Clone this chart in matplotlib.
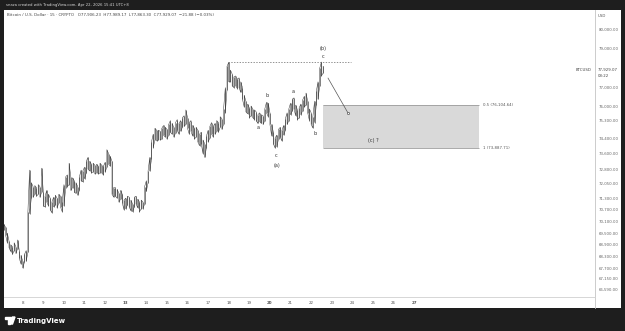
import numpy as np
import matplotlib.pyplot as plt
from matplotlib import transforms
from matplotlib.lines import Line2D
from matplotlib.patches import Rectangle, Polygon

# BTCUSD, 2-hour bars from Apr 7 02:00 to Apr 22 14:00 (UTC+8), thousand USD
lows = [
    69.65, 69.4, 69.0, 68.75, 68.55, 68.4, 68.6, 68.45, 68.7, 68.2, 67.9, 67.7,
    68.0, 68.05, 68.5, 70.5, 71.3, 71.35, 71.5, 71.4, 71.5, 71.35, 71.6, 70.9,
    70.85, 71.1, 70.9, 70.7, 70.55, 70.85, 70.95, 70.8, 71.05, 70.85, 70.6, 70.9,
    71.8, 71.9, 72.0, 71.7, 71.85, 71.6, 71.55, 71.45, 71.7, 72.2, 72.15, 72.3,
    72.6, 72.8, 72.7, 72.6, 72.65, 72.55, 72.6, 72.55, 72.6, 72.6, 72.5, 72.65,
    72.9, 73.05, 72.95, 71.5, 71.35, 71.4, 71.3, 71.1, 71.25, 71.05, 70.7, 70.75,
    70.95, 70.85, 70.65, 70.6, 70.85, 71.0, 70.8, 70.6, 70.75, 70.75, 71.0, 71.65,
    72.1, 72.7, 73.3, 73.9, 74.3, 74.25, 74.3, 74.3, 74.35, 74.55, 74.45, 74.35,
    74.55, 74.7, 74.6, 74.45, 74.65, 74.8, 74.6, 74.75, 74.95, 75.0, 75.1, 74.9,
    74.6, 74.75, 74.5, 74.35, 74.45, 74.2, 74.0, 74.1, 73.6, 73.4, 73.9, 74.2,
    74.4, 74.6, 74.45, 74.6, 74.75, 74.7, 74.95, 74.85, 75.1, 75.7, 76.9, 77.3,
    77.3, 77.1, 77.0, 77.1, 76.95, 77.0, 76.75, 76.4, 76.0, 75.75, 75.65, 75.45,
    75.55, 75.45, 75.35, 75.3, 75.15, 75.25, 75.15, 75.1, 75.3, 75.7, 75.5, 75.1,
    74.5, 74.1, 73.89, 73.95, 74.35, 74.45, 74.25, 74.55, 74.8, 75.1, 75.3, 75.6,
    75.8, 75.9, 75.55, 75.35, 75.45, 75.6, 75.8, 76.0, 76.1, 75.7, 75.3, 75.1,
    74.92, 75.2, 76.1, 76.4, 77.1, 77.6, 77.75,
]
highs = [
    69.95, 69.8, 69.5, 69.1, 68.9, 68.8, 69.0, 68.8, 69.15, 68.6, 68.35, 68.05,
    68.4, 68.6, 70.6, 72.75, 72.1, 71.9, 71.95, 71.85, 72.0, 71.9, 72.85, 71.6,
    71.4, 71.7, 71.5, 71.3, 71.1, 71.35, 71.45, 71.3, 71.5, 71.4, 71.1, 72.0,
    72.4, 72.5, 73.1, 72.4, 72.35, 72.2, 72.1, 71.9, 72.4, 72.75, 72.7, 72.9,
    73.2, 73.4, 73.2, 73.05, 73.1, 73.0, 73.05, 72.95, 73.1, 73.0, 72.95, 73.15,
    73.8, 73.6, 73.45, 73.2, 71.85, 71.85, 71.75, 71.55, 71.7, 71.5, 71.2, 71.3,
    71.4, 71.35, 71.2, 71.0, 71.35, 71.4, 71.25, 71.1, 71.2, 71.1, 71.9, 72.2,
    72.7, 73.4, 74.2, 74.6, 74.9, 74.8, 74.8, 74.75, 74.9, 75.05, 74.95, 74.85,
    75.1, 75.3, 75.15, 74.95, 75.2, 75.35, 75.15, 75.3, 75.45, 75.55, 75.85, 75.45,
    75.2, 75.3, 75.05, 74.9, 74.95, 74.8, 74.6, 74.7, 74.3, 74.1, 74.5, 74.8,
    75.0, 75.2, 75.0, 75.15, 75.3, 75.2, 75.5, 75.4, 75.9, 77.0, 78.1, 78.3,
    77.9, 77.7, 77.55, 77.6, 77.45, 77.5, 77.3, 77.0, 76.6, 76.3, 76.15, 75.95,
    76.05, 75.9, 75.85, 75.75, 75.6, 75.7, 75.6, 75.55, 75.9, 76.25, 76.2, 75.7,
    75.1, 74.7, 74.4, 74.55, 74.85, 74.95, 74.8, 75.05, 75.4, 75.7, 75.9, 76.2,
    76.4, 76.47, 76.1, 75.85, 75.95, 76.15, 76.35, 76.55, 76.72, 76.3, 75.9, 75.7,
    75.5, 76.3, 76.8, 77.3, 78.0, 78.32, 78.1,
]
first_bar = 7 + 2 / 24
bar_step = 2 / 24

day_ticks = list(range(8, 28))
bold_days = [13, 20, 27]
price_ticks = [80000, 79000, 77000, 76000, 75300, 74400, 73600, 72800, 72050,
               71300, 70700, 70100, 69500, 68900, 68300, 67700, 67150, 66590]

fib_half = 76104.64
fib_one = 73887.71
prev_high = 78300
last_price = 77929.07

W, H = 625, 331
fig = plt.figure(figsize=(W / 100, H / 100), dpi=100, facecolor='#1e1e1e')


def fx(px):
    return px / W


def fy(py):
    return 1 - py / H


panel = fig.add_axes([fx(4), fy(308), 617 / W, 298 / H])
panel.set_facecolor('white')
panel.set_xticks([])
panel.set_yticks([])
for s in panel.spines.values():
    s.set_visible(False)

ax = fig.add_axes([fx(4), fy(297), 591 / W, 287 / H])
ax.patch.set_alpha(0)
for s in ax.spines.values():
    s.set_visible(False)

t = first_bar + bar_step * np.arange(len(lows))
lo = np.array(lows) * 1000
hi = np.array(highs) * 1000
ax.vlines(t, lo, hi, color='#3a3a3a', lw=0.45)
# zigzag through the bar extremes so the series reads like dense 15m candles
zx = np.repeat(t, 2)
zy = np.where(np.arange(len(zx)) % 4 < 2, np.ravel(np.column_stack([lo, hi])),
              np.ravel(np.column_stack([hi, lo])))
ax.plot(zx, zy, color='#3a3a3a', lw=0.35)

ax.set_xlim(7.09, 35.78)
ax.set_ylim(66206, 81000)

# fib box
box_start, box_end = 22.58, 30.15
ax.fill_between([box_start, box_end], fib_one, fib_half, color='#d9d9d9', lw=0)
ax.hlines([fib_half, fib_one], box_start, box_end, color='#9c9c9c', lw=0.6)
ax.text(box_end + 0.2, fib_half, '0.5 (76,104.64)', fontsize=2.8, color='#555', va='center')
ax.text(box_end + 0.2, fib_one, '1 (73,887.71)', fontsize=2.8, color='#555', va='center')

ax.hlines(prev_high, 17.94, 23.93, color='#666', lw=0.5, linestyles=(0, (2, 2)))

# projection arrow
ax.plot([22.82, 23.79], [77490, 75690], color='#555', lw=0.5)
ax.plot(23.79, 75690, 'o', ms=1.6, mfc='white', mec='#555', mew=0.5)

# wave labels
wave = dict(fontsize=3.6, color='#333', ha='center', va='center')
ax.text(19.43, 74920, 'a', **wave)
ax.text(19.86, 76570, 'b', **wave)
ax.text(20.30, 73480, 'c', **wave)
ax.text(20.35, 73010, '(a)', **wave)
ax.text(21.13, 76820, 'a', **wave)
ax.text(22.19, 74610, 'b', **wave)
ax.text(22.58, 78580, 'c', **wave)
ax.text(22.58, 78990, '(b)', **wave)
ax.text(25.0, 74250, '(c) ?', **wave)

# axes
ax.yaxis.tick_right()
ax.set_yticks(price_ticks)
ax.set_yticklabels(['{:,.2f}'.format(v) for v in price_ticks])
ax.tick_params(axis='y', length=0, pad=2.5, labelsize=2.8, labelcolor='#666')
ax.set_xticks(day_ticks)
ax.set_xticklabels([str(d) for d in day_ticks])
ax.tick_params(axis='x', length=0, pad=3.2, labelsize=2.9, labelcolor='#555')
for lab, d in zip(ax.get_xticklabels(), day_ticks):
    if d in bold_days:
        lab.set_fontweight('bold')

blend = transforms.blended_transform_factory(ax.transAxes, ax.transData)
ax.text(1 + 3 / 591, last_price, '77,929.07', transform=blend, fontsize=2.8,
        color='#444', va='center', clip_on=False)
ax.annotate('03:22', xy=(1 + 3 / 591, last_price), xycoords=blend,
            xytext=(0, -4.5), textcoords='offset points', fontsize=2.8,
            color='#444', va='center', annotation_clip=False)
ax.text(1 - 3 / 591, last_price, 'BTCUSD', transform=blend, fontsize=2.8,
        color='#444', va='center', ha='right', clip_on=False)

fig.add_artist(Line2D([fx(595), fx(595)], [fy(10), fy(308)], color='#c4c4c4', lw=0.6))
fig.add_artist(Line2D([fx(4), fx(595)], [fy(297), fy(297)], color='#d0d0d0', lw=0.6))

fig.text(fx(598), fy(16), 'USD', fontsize=2.8, color='#555', va='center')
fig.text(fx(7), fy(15),
         'Bitcoin / U.S. Dollar · 15 · CRYPTO   O77,906.23  H77,989.17  L77,863.30  C77,929.07  \u221221.88 (\u22120.03%)',
         fontsize=2.9, color='#444', va='center')
fig.text(fx(6), fy(5), 'snaza created with TradingView.com, Apr 22, 2026 15:41 UTC+8',
         fontsize=2.7, color='#d8d8d8', va='center')

# logo
fig.patches.append(Rectangle((fx(5), fy(319)), 6 / W, 2 / H, color='white', transform=fig.transFigure))
fig.patches.append(Rectangle((fx(7.5), fy(324)), 2 / W, 5 / H, color='white', transform=fig.transFigure))
fig.patches.append(Polygon([(fx(12.5), fy(317)), (fx(15), fy(317)), (fx(12.5), fy(324)), (fx(10.5), fy(324))],
                           closed=True, color='white', transform=fig.transFigure))
fig.text(fx(17), fy(320.5), 'TradingView', fontsize=5, fontweight='bold', color='white', va='center')

fig.savefig('out.png', dpi=100, facecolor=fig.get_facecolor())
